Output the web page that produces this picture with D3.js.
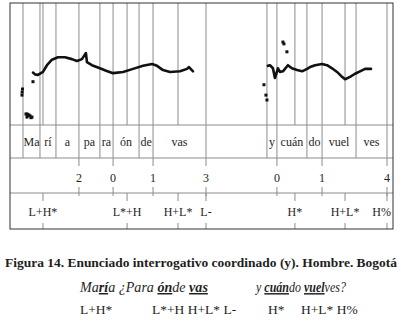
<!DOCTYPE html>
<html>
<head>
<meta charset="utf-8">
<script src="https://cdn.jsdelivr.net/npm/d3@7"></script>
<style>
  body { margin: 0; background: #fff; }
  svg { display: block; }
</style>
</head>
<body>
<svg id="chart"></svg>
<script>
// syllable tier: boundaries (s) and the label of each interval between them
const wordBounds = [0.078, 0.180, 0.276, 0.414, 0.540, 0.619, 0.775, 0.859, 1.177,
  1.543, 1.603, 1.783, 1.874, 2.078, 2.264]
const wordLabels = ["Ma", "rí", "a", "pa", "ra", "ón", "de", "vas", "",
  "y", "cuán", "do", "vuel", "ves"]

// break indices
const breakTimes = [0.414, 0.619, 0.859, 1.177, 1.603, 1.874, 2.264]
const breakLabels = ["2", "0", "1", "3", "0", "1", "4"]

// tones
const toneTimes = [0.198, 0.703, 1.009, 1.177, 1.711, 2.012, 2.264]
const toneLabels = ["L+H*", "L*+H", "H+L*", "L-", "H*", "H+L*", "H%"]

// f0 contour, first stretch (María ¿para ónde vas)
const f0Times1 = [0.138, 0.150, 0.168, 0.198, 0.222, 0.252, 0.288, 0.330, 0.372, 0.402, 0.432,
  0.456, 0.462, 0.492, 0.540, 0.577, 0.619, 0.679, 0.739, 0.799, 0.853,
  0.883, 0.919, 0.961, 1.021, 1.063, 1.075, 1.099]
const f0Hz1 = [161, 158, 157, 162, 173, 182, 186, 186, 183, 180, 183,
  193, 178, 173, 168, 164, 160, 162, 167, 172, 175,
  172, 165, 162, 163, 167, 170, 163]

// f0 contour, second stretch (y cuándo vuelves)
const f0Times2 = [1.549, 1.561, 1.579, 1.591, 1.597, 1.609, 1.621, 1.639, 1.669, 1.693,
  1.724, 1.754, 1.784, 1.802, 1.832, 1.874, 1.904, 1.934, 1.964, 1.994,
  2.012, 2.042, 2.072, 2.102, 2.132, 2.168]
const f0Hz2 = [172, 173, 168, 152, 157, 168, 162, 163, 173, 168,
  165, 163, 167, 170, 173, 175, 173, 168, 162, 154,
  150, 154, 159, 163, 167, 167]

// stray pitch points
const strayTimes = [0.075, 0.073, 0.072, 0.138, 0.096, 0.102, 0.108, 0.114, 0.120, 0.132, 0.102, 0.126,
  1.525, 1.537, 1.543, 1.639, 1.645, 1.663]
const strayHz = [134, 129, 124, 146, 93, 93, 92, 91, 90, 88, 88, 87,
  141, 124, 116, 211, 208, 195]

const width = 401
const height = 321
const frame = { left: 10, right: 393, top: 3, bottom: 229 }
const pitchBottom = 125
const wordBottom = 158
const breakBottom = 193

const svg = d3.select("#chart").attr("width", width).attr("height", height)

const x = d3.scaleLinear().domain([0, 2.3]).range([frame.left, frame.right])
const y = d3.scaleLinear().domain([75, 275]).range([pitchBottom, frame.top])

const serif = "'Liberation Serif', 'DejaVu Serif', serif"
const grey = "#8c8c8c"
const ink = "#1e1e1e"

// vertical lines in the pitch panel
const pitchLines = Array.from(new Set(wordBounds.concat(toneTimes)))
svg.append("g")
  .selectAll("line")
  .data(pitchLines)
  .join("line")
  .attr("x1", (d) => x(d)).attr("x2", (d) => x(d))
  .attr("y1", frame.top).attr("y2", pitchBottom)
  .attr("stroke", grey).attr("stroke-width", 1)

// word tier
svg.append("g")
  .selectAll("line")
  .data(wordBounds)
  .join("line")
  .attr("x1", (d) => x(d)).attr("x2", (d) => x(d))
  .attr("y1", pitchBottom).attr("y2", wordBottom)
  .attr("stroke", grey)

svg.append("g")
  .selectAll("text")
  .data(wordLabels)
  .join("text")
  .attr("x", (d, i) => (x(wordBounds[i]) + x(wordBounds[i + 1])) / 2)
  .attr("y", 146)
  .attr("text-anchor", "middle")
  .attr("font-family", serif)
  .attr("font-size", 12)
  .attr("fill", ink)
  .text((d) => d)

// point tiers: short ticks at top and bottom with the label between
const pointTier = (times, labels, top, bottom, baseline) => {
  const g = svg.append("g")
  g.selectAll("line.top")
    .data(times)
    .join("line")
    .attr("class", "top")
    .attr("x1", (d) => x(d)).attr("x2", (d) => x(d))
    .attr("y1", top).attr("y2", top + 8)
    .attr("stroke", grey)
  g.selectAll("line.bot")
    .data(times)
    .join("line")
    .attr("class", "bot")
    .attr("x1", (d) => x(d)).attr("x2", (d) => x(d))
    .attr("y1", bottom - 6).attr("y2", bottom + (bottom < frame.bottom ? 3 : 0))
    .attr("stroke", grey)
  g.selectAll("text")
    .data(labels)
    .join("text")
    .attr("x", (d, i) => x(times[i]))
    .attr("y", baseline)
    .attr("text-anchor", "middle")
    .attr("font-family", serif)
    .attr("font-size", 12)
    .attr("fill", ink)
    .text((d) => d)
    .each(function () {
      // keep the last label inside the frame
      const b = this.getBBox()
      if (b.x + b.width > frame.right - 2) {
        d3.select(this).attr("text-anchor", "end").attr("x", frame.right - 2)
      }
    })
}
pointTier(breakTimes, breakLabels, wordBottom, breakBottom, 182)
pointTier(toneTimes, toneLabels, breakBottom, frame.bottom, 216)

// horizontal tier lines
svg.append("g")
  .selectAll("line")
  .data([pitchBottom, wordBottom, breakBottom])
  .join("line")
  .attr("x1", frame.left).attr("x2", frame.right)
  .attr("y1", (d) => d).attr("y2", (d) => d)
  .attr("stroke", grey)

// frame
svg.append("rect")
  .attr("x", frame.left).attr("y", frame.top)
  .attr("width", frame.right - frame.left)
  .attr("height", frame.bottom - frame.top)
  .attr("fill", "none")
  .attr("stroke", "#333")
  .attr("stroke-width", 1)

// f0
const line = d3.line()
  .x((d) => x(d[0]))
  .y((d) => y(d[1]))

const stretches = [d3.zip(f0Times1, f0Hz1), d3.zip(f0Times2, f0Hz2)]
svg.append("g")
  .selectAll("path")
  .data(stretches)
  .join("path")
  .attr("d", line)
  .attr("fill", "none")
  .attr("stroke", "#111")
  .attr("stroke-width", 2.6)
  .attr("stroke-linejoin", "round")
  .attr("stroke-linecap", "round")

svg.append("g")
  .selectAll("rect")
  .data(d3.zip(strayTimes, strayHz))
  .join("rect")
  .attr("x", (d) => x(d[0]) - 1.5)
  .attr("y", (d) => y(d[1]) - 1.5)
  .attr("width", 3)
  .attr("height", 3)
  .attr("fill", "#111")

// caption
svg.append("text")
  .attr("x", 5)
  .attr("y", 267)
  .attr("textLength", 392)
  .attr("lengthAdjust", "spacingAndGlyphs")
  .attr("font-family", serif)
  .attr("font-weight", "bold")
  .attr("font-size", 13.5)
  .attr("fill", ink)
  .text("Figura 14. Enunciado interrogativo coordinado (y). Hombre. Bogotá")

const sentence = svg.append("g")
  .attr("font-family", serif)
  .attr("font-style", "italic")
  .attr("font-size", 14.5)
  .attr("fill", ink)

// each phrase is squeezed horizontally to the width it has in the figure
const phrase = (x0, len, parts) => {
  const g = sentence.append("g")
  const t = g.append("text").attr("x", 0).attr("y", 0)
  parts.forEach(([s, strong]) => {
    const ts = t.append("tspan").text(s)
    if (strong) ts.attr("font-weight", "bold").style("text-decoration", "underline")
  })
  const k = Math.min(1, len / t.node().getComputedTextLength())
  g.attr("transform", `translate(${x0},292) scale(${k},1)`)
}
phrase(80, 128, [["Ma", false], ["rí", true], ["a ¿Para ", false], ["ón", true], ["de ", false], ["vas", true]])
phrase(256, 90, [["y ", false], ["cuán", true], ["do ", false], ["vuel", true], ["ves?", false]])

const toneLine = svg.append("g")
  .attr("font-family", serif)
  .attr("font-size", 13.5)
  .attr("fill", ink)
toneLine.append("text").attr("x", 80).attr("y", 314).text("L+H*")
toneLine.append("text").attr("x", 152).attr("y", 314).text("L*+H H+L* L-")
toneLine.append("text").attr("x", 268).attr("y", 314).text("H*")
toneLine.append("text").attr("x", 301).attr("y", 314).text("H+L* H%")
</script>
</body>
</html>
